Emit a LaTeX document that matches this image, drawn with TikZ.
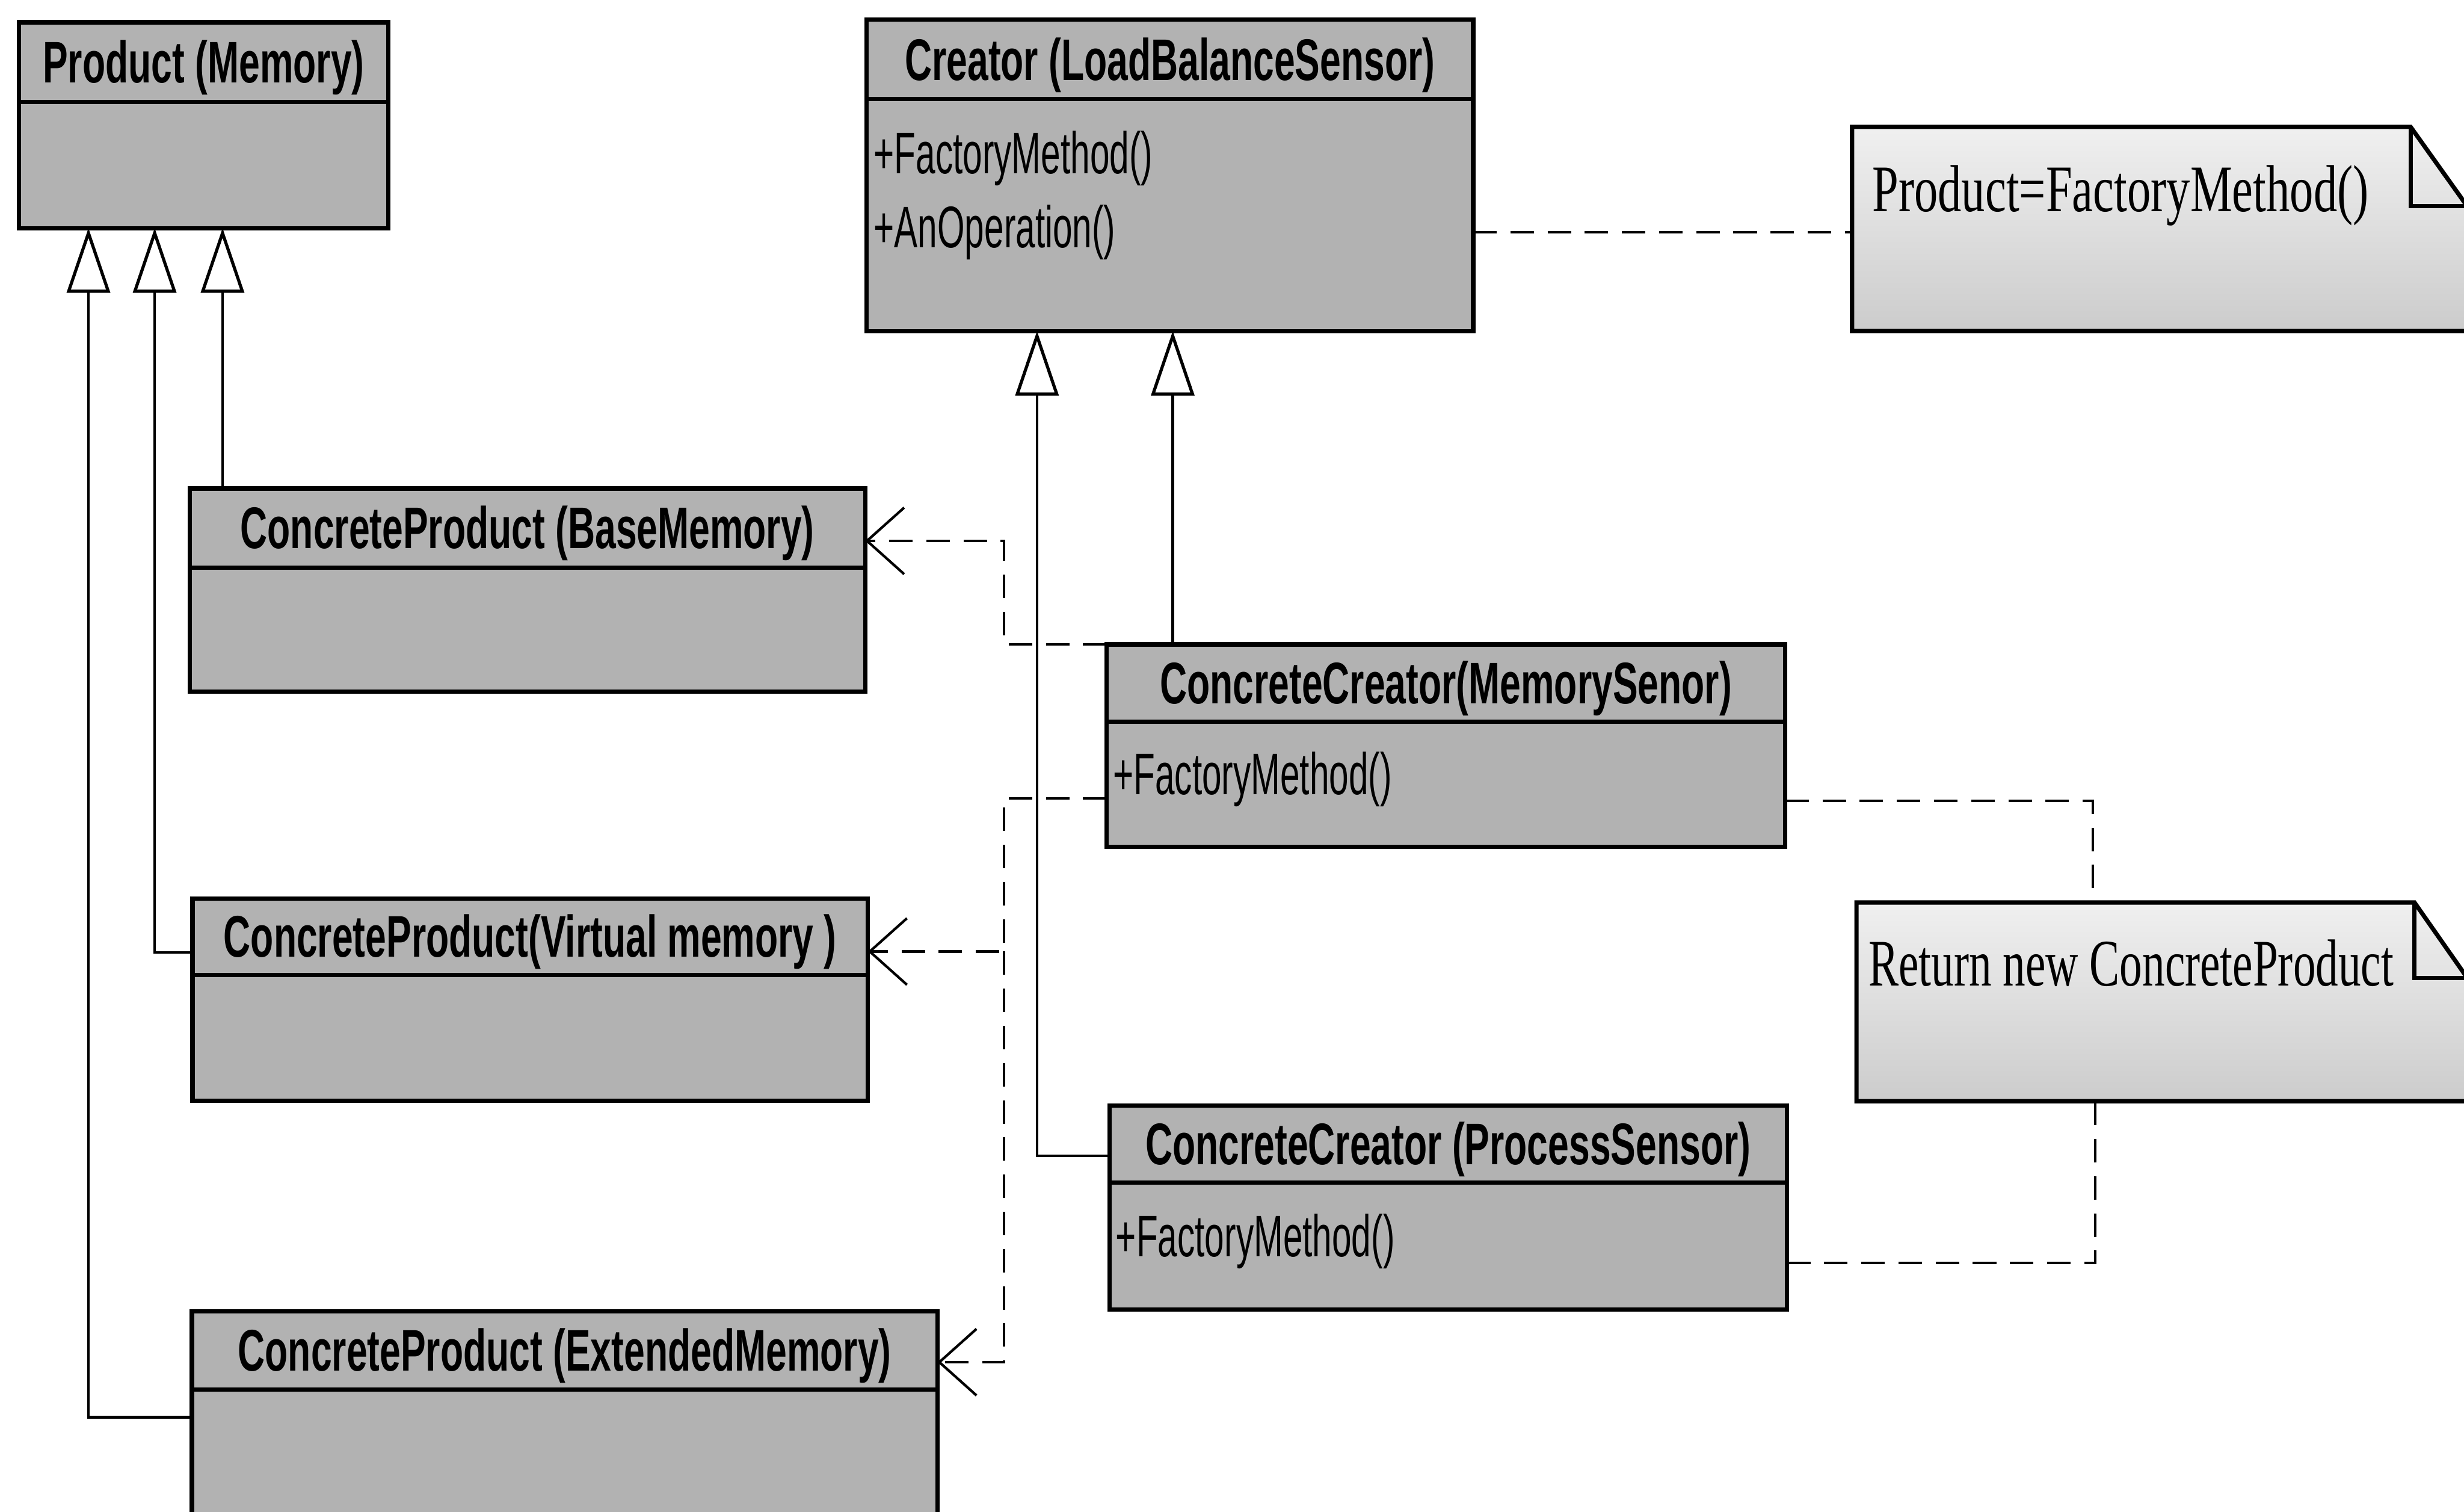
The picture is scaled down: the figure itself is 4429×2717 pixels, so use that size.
\documentclass[tikz,border=0pt]{standalone}
\usepackage{fontspec}
\setmainfont{Liberation Serif}
\setsansfont{Liberation Sans}
\usetikzlibrary{arrows.meta,fit,calc}

\definecolor{boxgray}{gray}{0.70}
\definecolor{notetop}{gray}{0.94}
\definecolor{notebot}{gray}{0.80}

% condensed lettering used by the class boxes and the notes
\newcommand{\condT}[1]{\scalebox{0.64}[1]{#1}}
\newcommand{\condM}[1]{\scalebox{0.60}[1]{#1}}
\newcommand{\condN}[1]{\scalebox{0.71}[1]{#1}}
\newcommand{\condNn}[1]{\scalebox{0.68}[1]{#1}}

\tikzset{
  classbox/.style={draw=black, line width=2.2pt, fill=boxgray, inner sep=0pt, outer sep=0pt},
  divider/.style={line width=2.2pt},
  classtitle/.style={inner sep=0pt, anchor=base, font=\sffamily\bfseries\fontsize{30}{34}\selectfont},
  member/.style={inner sep=0pt, anchor=base west, font=\sffamily\fontsize{30}{34}\selectfont},
  notearea/.style={inner sep=0pt, outer sep=0pt},
  notebox/.style={draw=black, line width=2.2pt, top color=notetop, bottom color=notebot},
  notetext/.style={inner sep=0pt, anchor=base west, font=\rmfamily\fontsize{34}{40}\selectfont},
  inherit/.style={line width=1.3pt, -{Triangle[open, length=33pt, width=22pt, line width=1.6pt, fill=white]}},
  depend/.style={line width=1.3pt, dash pattern=on 12pt off 7pt, -{Straight Barb[length=19pt, width=34pt, line width=1.3pt]}},
  notelink/.style={line width=1.3pt, dash pattern=on 12pt off 7pt}
}

\begin{document}
\begin{tikzpicture}[x=0.01cm, y=-0.01cm]
\useasboundingbox (0,0) rectangle (4429,2717);
\clip (0,0) rectangle (4429,2717);

% ---------- class boxes ----------
\node[classbox, fit={(34,40) (698,410)}] (prod) {};
\draw[divider] (prod.west |- 0,183) -- (prod.east |- 0,183);
\node[classtitle] (prod-t) at (prod.north |- 0,149) {\condT{Product (Memory)}};

\node[classbox, fit={(1558,35) (2648,595)}] (cr) {};
\draw[divider] (cr.west |- 0,178) -- (cr.east |- 0,178);
\node[classtitle] (cr-t) at (cr.north |- 0,144) {\condT{Creator (LoadBalanceSensor)}};
\node[member] (cr-m1) at (1570,312) {\condM{+FactoryMethod()}};
\node[member] (cr-m2) at (1570,445) {\condM{+AnOperation()}};

\node[classbox, fit={(341,878) (1555,1243)}] (bm) {};
\draw[divider] (bm.west |- 0,1020) -- (bm.east |- 0,1020);
\node[classtitle] (bm-t) at (bm.north |- 0,986) {\condT{ConcreteProduct (BaseMemory)}};

\node[classbox, fit={(346,1615) (1560,1978)}] (vm) {};
\draw[divider] (vm.west |- 0,1752) -- (vm.east |- 0,1752);
\node[classtitle] (vm-t) at (vm.north |- 0,1720) {\condT{ConcreteProduct(Virtual memory )}};

\node[classbox, fit={(345,2357) (1685,2780)}] (em) {};
\draw[divider] (em.west |- 0,2497) -- (em.east |- 0,2497);
\node[classtitle] (em-t) at (em.north |- 0,2464) {\condT{ConcreteProduct (ExtendedMemory)}};

\node[classbox, fit={(1989,1158) (3209,1522)}] (ms) {};
\draw[divider] (ms.west |- 0,1297) -- (ms.east |- 0,1297);
\node[classtitle] (ms-t) at (ms.north |- 0,1265) {\condT{ConcreteCreator(MemorySenor)}};
\node[member] (ms-m1) at (2000,1428) {\condM{+FactoryMethod()}};

\node[classbox, fit={(1994,1987) (3212,2353)}] (ps) {};
\draw[divider] (ps.west |- 0,2125) -- (ps.east |- 0,2125);
\node[classtitle] (ps-t) at (ps.north |- 0,2093) {\condT{ConcreteCreator (ProcessSensor)}};
\node[member] (ps-m1) at (2005,2258) {\condM{+FactoryMethod()}};

% ---------- notes ----------
\node[notearea, fit={(3329,228) (4445,595)}] (n1) {};
\draw[notebox] (n1.north west) -- (4333,0 |- n1.north) -- (n1.east |- 0,385)
  -- (n1.south east) -- (n1.south west) -- cycle;
\draw[divider] (4333,0 |- n1.north) -- (4333,370) -- (n1.east |- 0,370);
\node[notetext] (n1-t) at (3365,380) {\condN{Product=FactoryMethod()}};

\node[notearea, fit={(3337,1622) (4445,1979)}] (n2) {};
\draw[notebox] (n2.north west) -- (4340,0 |- n2.north) -- (n2.east |- 0,1772)
  -- (n2.south east) -- (n2.south west) -- cycle;
\draw[divider] (4340,0 |- n2.north) -- (4340,1758) -- (n2.east |- 0,1758);
\node[notetext] (n2-t) at (3358,1772) {\condNn{Return new ConcreteProduct}};

% ---------- generalizations ----------
\draw[inherit] (400,0 |- bm.north) -- (400,0 |- prod.south);
\draw[inherit] (vm.west |- 0,1712) -| (278,0 |- prod.south);
\draw[inherit] (em.west |- 0,2547) -| (159,0 |- prod.south);
\draw[inherit] (2108,0 |- ms.north) -- (2108,0 |- cr.south);
\draw[inherit] (ps.west |- 0,2077) -| (1864,0 |- cr.south);

% ---------- dependencies ----------
\draw[depend] (ms.north west) -- (1805,0 |- ms.north) |- (bm.east |- 0,972);
\draw[depend] (ms.west |- 0,1435) -- (1805,1435) |- (vm.east |- 0,1710);
\draw[depend] (1805,1710) |- (em.east |- 0,2448);

% ---------- note attachments ----------
\draw[notelink] (cr.east |- 0,417) -- (n1.west |- 0,417);
\draw[notelink] (ms.east |- 0,1439) -| (3762,0 |- n2.north);
\draw[notelink] (ps.east |- 0,2270) -| (3766,0 |- n2.south);
\end{tikzpicture}
\end{document}
